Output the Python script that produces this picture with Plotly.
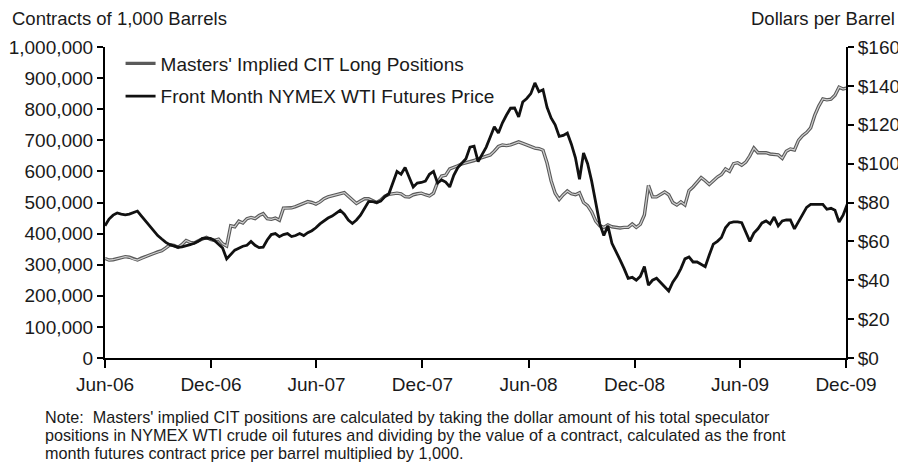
import pandas as pd
import plotly.graph_objects as go

# ---- data (weekly) ----
week_start = "2006-06-01"
n_weeks = 184
dates = pd.date_range(start=week_start, periods=n_weeks, freq="7D")

# Masters' implied CIT long positions (contracts, thousands)
cit_positions_k = [
    320, 315, 316, 320, 322, 326, 324, 318, 315, 321,
    327, 331, 336, 341, 345, 354, 364, 362, 356, 365,
    378, 372, 370, 377, 384, 388, 381, 378, 382, 367,
    360, 425, 422, 440, 434, 448, 452, 448, 458, 464,
    448, 446, 450, 443, 482, 482, 483, 487, 492, 496,
    503, 500, 495, 502, 512, 518, 522, 526, 530, 532,
    520, 508, 497, 505, 512, 512, 505, 500, 508, 520,
    526, 528, 530, 528, 519, 518, 525, 528, 530, 525,
    521, 530, 565, 585, 588, 608, 612, 618, 624, 627,
    630, 635, 640, 645, 650, 653, 665, 680, 685, 683,
    685, 690, 695, 690, 685, 680, 675, 673, 668, 627,
    570, 530, 510, 525, 537, 528, 525, 531, 500, 490,
    470, 440, 425, 420, 428, 422, 420, 418, 420, 420,
    431, 420, 430, 460, 555, 518, 518, 525, 534, 525,
    500, 492, 502, 492, 538, 550, 565, 580, 570, 558,
    570, 582, 590, 608, 600, 625, 628, 620, 630, 650,
    675, 660, 660, 660, 656, 655, 653, 642, 665, 672,
    669, 700, 715, 725, 740, 780, 810, 833, 830, 832,
    845, 871, 865, 868,
]
cit_positions = [v * 1000 for v in cit_positions_k]

# Front month NYMEX WTI futures price ($/bbl)
wti_price = [
    68, 71.5, 73.5, 74.6, 74, 73.6, 74, 75, 75.6, 73,
    70.5, 68.5, 66, 63, 61.2, 59.5, 58.3, 57.5, 57, 57.2,
    57.6, 58.3, 59, 60, 61.5, 61.7, 61.5, 60.5, 58.5, 56.6,
    51, 53, 55.5, 56.5, 57.5, 58, 60, 58, 56.8, 57,
    60.7, 63.5, 64, 62.4, 63.5, 64, 62.5, 63, 64, 63,
    64.5, 65.5, 67, 69, 70.5, 72, 73, 74.3, 76, 74,
    71, 69.2, 71, 73.5, 77, 80.5, 80.5, 80, 80.7, 83,
    84.5, 90, 96, 94.5, 98, 93, 88, 90, 90.3, 91,
    94.5, 96, 90, 91.6, 90.5, 88, 94, 98, 100, 102.5,
    108.5, 109, 101, 104.5, 108.5, 113.7, 119, 115.7, 121, 125,
    128.5, 128.6, 124, 131.7, 133.5, 136, 141.5, 137, 138, 129,
    123.5, 120, 114, 114.5, 115.7, 110, 103, 92, 105.5, 100,
    91, 80, 69, 63, 68, 59, 55, 50.5, 46, 41,
    41.5, 40, 42, 47, 37.5, 40, 41, 39, 36.5, 34.5,
    39, 42, 46, 51, 52, 49.4, 49.4, 48, 47, 53,
    58.6, 60, 62, 67, 69.5, 70, 70, 69.6, 64.3, 60,
    64.3, 66.5, 69.5, 70.5, 69, 72.5, 68, 70.5, 71, 71,
    66.4, 70, 73.5, 77.5, 79, 79, 79, 79, 76.5, 77,
    76, 70, 73.5, 79,
]

tick_dates = ["2006-06-01", "2006-12-01", "2007-06-01", "2007-12-01",
              "2008-06-01", "2008-12-01", "2009-06-01", "2009-12-01"]
tick_labels = ["Jun-06", "Dec-06", "Jun-07", "Dec-07",
               "Jun-08", "Dec-08", "Jun-09", "Dec-09"]

name_cit = "Masters' Implied CIT Long Positions"
name_wti = "Front Month NYMEX WTI Futures Price"
left_title = "Contracts of 1,000 Barrels"
right_title = "Dollars per Barrel"
note_lines = [
    "Note:  Masters' implied CIT positions are calculated by taking the dollar amount of his total speculator",
    "positions in NYMEX WTI crude oil futures and dividing by the value of a contract, calculated as the front",
    "month futures contract price per barrel multiplied by 1,000.",
]

FONT = "Liberation Sans, Arial, Helvetica, sans-serif"

fig = go.Figure()
# grey double-line (outline + light core) for CIT positions
fig.add_trace(go.Scatter(x=dates, y=cit_positions, mode="lines", name=name_cit,
                         line=dict(color="#5a5a5a", width=3.4), legendgroup="a",
                         hoverinfo="skip"))
fig.add_trace(go.Scatter(x=dates, y=cit_positions, mode="lines", name=name_cit,
                         line=dict(color="#cfcfcf", width=1.2), showlegend=False,
                         legendgroup="a"))
fig.add_trace(go.Scatter(x=dates, y=wti_price, mode="lines", name=name_wti, yaxis="y2",
                         line=dict(color="#111111", width=2.8), legendgroup="b"))

note_y = [-0.19, -0.2476, -0.3055]
annotations = [
    dict(text=left_title, xref="paper", yref="paper", x=-0.128, y=1.093,
         xanchor="left", yanchor="middle", showarrow=False, font=dict(size=18.5)),
    dict(text=right_title, xref="paper", yref="paper", x=1.069, y=1.093,
         xanchor="right", yanchor="middle", showarrow=False, font=dict(size=18.5)),
]
for line, yy in zip(note_lines, note_y):
    annotations.append(dict(text=line, xref="paper", yref="paper", x=-0.083, y=yy,
                            xanchor="left", yanchor="middle", align="left",
                            showarrow=False, font=dict(size=16.2)))

fig.update_layout(
    width=898, height=463,
    margin=dict(l=97, r=60, t=39, b=113, autoexpand=False),
    paper_bgcolor="white", plot_bgcolor="white",
    font=dict(family=FONT, size=19, color="#1a1a1a"),
    showlegend=True,
    legend=dict(x=0.021, y=1.008, xanchor="left", yanchor="top",
                bgcolor="rgba(0,0,0,0)", font=dict(size=19),
                traceorder="grouped", tracegroupgap=5,
                itemwidth=30),
    xaxis=dict(type="date", range=["2006-06-01", "2009-12-01"],
               tickvals=tick_dates, ticktext=tick_labels,
               ticks="outside", ticklen=8, tickwidth=2, tickcolor="black",
               showline=True, linecolor="black", linewidth=2,
               showgrid=False, zeroline=False, tickfont=dict(size=19)),
    yaxis=dict(range=[0, 1000000], dtick=100000, tickformat=",d",
               ticks="outside", ticklen=6, tickwidth=2, tickcolor="black",
               showline=True, linecolor="black", linewidth=2,
               showgrid=False, zeroline=False, tickfont=dict(size=19)),
    yaxis2=dict(range=[0, 160], dtick=20, tickprefix="$", overlaying="y", side="right",
                ticks="outside", ticklen=6, tickwidth=2, tickcolor="black",
                showline=True, linecolor="black", linewidth=2,
                showgrid=False, zeroline=False, tickfont=dict(size=19)),
    annotations=annotations,
)

fig.write_html("out.html")
